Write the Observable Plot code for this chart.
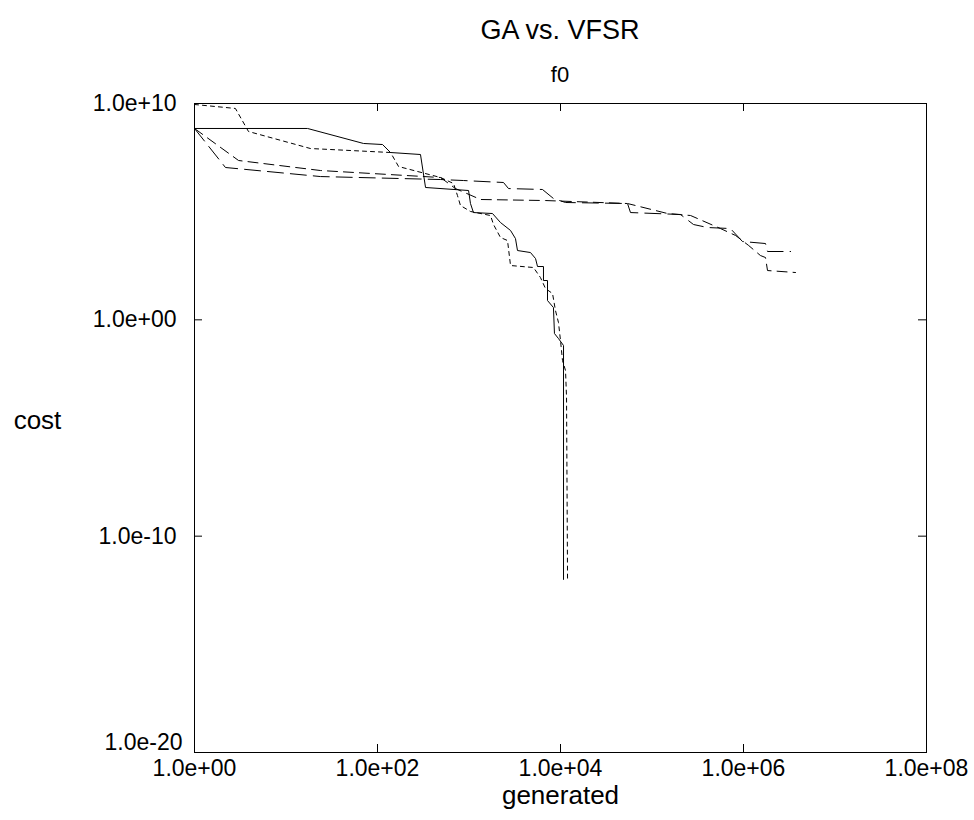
<!DOCTYPE html>
<html>
<head>
<meta charset="utf-8">
<script src="https://cdn.jsdelivr.net/npm/d3@7"></script>
<script src="https://cdn.jsdelivr.net/npm/@observablehq/plot@0.6"></script>
<style>
  body { margin: 0; background: #fff; font-family: "Liberation Sans", Arial, Helvetica, sans-serif; color: #000; }
  #title { height: 60px; line-height: 60px; font-size: 27px; text-align: center; padding-left: 194px; width: 732px; }
  #subtitle { height: 28px; line-height: 30px; font-size: 22px; text-align: center; padding-left: 194px; width: 732px; }
  #chart svg { display: block; }
</style>
</head>
<body>
<div id="title">GA vs. VFSR</div>
<div id="subtitle">f0</div>
<div id="chart"></div>
<script>
// Tick values and labels
const xTicks = [1, 1e2, 1e4, 1e6, 1e8];
const xTickLabels = ["1.0e+00", "1.0e+02", "1.0e+04", "1.0e+06", "1.0e+08"];
const yTicks = [1e10, 1e0, 1e-10, 1e-20];
const yTickLabels = ["1.0e+10", "1.0e+00", "1.0e-10", "1.0e-20"];

// Series: [generated, cost]
const gaRun1 = [
  [1, 7.0e8], [17.2, 7.0e8], [70.3, 1.42e8], [113.5, 1.27e8], [138.7, 5.43e7],
  [295, 4.39e7], [335, 1.31e6], [989, 9.5e5], [1038, 2.38e5], [1119, 9.1e4],
  [1807, 8.2e4], [2208, 3.15e4], [2844, 1.35e4], [3221, 5.7e3], [3388, 1.6e3],
  [4699, 1.29e3], [5333, 682], [5610, 291], [6516, 291], [6516, 65.6],
  [7211, 65.6], [7211, 7.8], [8375, 3.7], [8590, 0.233], [9506, 0.136],
  [10790, 0.065], [10790, 1e-12]
];
const gaRun2 = [
  [1, 9.0e9], [2.8, 5.9e9], [3.89, 5.08e8], [18.5, 8.3e7], [138.7, 5.43e7],
  [170, 1.22e7], [489, 3.79e6], [678, 2.0e6], [748, 5.58e5], [807, 1.92e5],
  [1038, 1.02e5], [1718, 6.64e4], [1853, 2.55e4], [2208, 6.38e3], [2636, 4.64e3],
  [2844, 324], [5070, 262], [6039, 90], [6855, 28], [8185, 16.4],
  [8810, 2.7], [9506, 0.75], [10000, 0.11], [10520, 0.0131], [11350, 0.00453],
  [11640, 2.56e-4], [11940, 1e-12]
];
const vfsrRun1 = [
  [1, 7.0e8], [3.03, 2.32e7], [23.8, 7.98e6], [489, 3.79e6], [711, 1.17e6],
  [1337, 3.65e5], [6855, 3.27e5], [5.4e4, 2.38e5], [1.48e5, 8.2e4], [2.64e5, 6.64e4],
  [5.6e5, 1.66e4], [8.2e5, 7.9e3], [1.14e6, 2.72e3], [1.53e6, 940], [1.74e6, 759],
  [1.83e6, 190], [3.7e6, 154]
];
const vfsrRun2 = [
  [1, 7.0e8], [2.18, 1.1e7], [23.8, 4.2e6], [489, 3.06e6], [871, 2.75e6],
  [2382, 2.23e6], [2704, 1.17e6], [6353, 1.06e6], [8375, 4.06e5], [11350, 2.65e5],
  [5.4e4, 2.38e5], [5.82e4, 9.1e4], [2.05e5, 7.4e4], [2.84e5, 2.55e4], [4.05e5, 1.85e4],
  [7.2e5, 1.66e4], [9.75e5, 4.17e3], [1.74e6, 3.37e3], [1.83e6, 1.44e3], [3.27e6, 1.44e3]
];

const xFmt = new Map(xTicks.map((t, i) => [t, xTickLabels[i]]));
const yFmt = new Map(yTicks.map((t, i) => [t, yTickLabels[i]]));

const W = 974, H = 732, mL = 194, mR = 48, mT = 15, mB = 68;
const fw = W - mL - mR, fh = H - mT - mB, tk = 8;

const lineOpts = {x: d => d[0], y: d => d[1], stroke: "black", strokeWidth: 1};
const yMain = yTicks.slice(0, 3), yLast = yTicks.slice(3);

const chart = Plot.plot({
  width: W, height: H,
  marginLeft: mL, marginRight: mR, marginTop: mT, marginBottom: mB,
  style: {fontFamily: '"Liberation Sans", Arial, Helvetica, sans-serif', fontSize: "23px", background: "white", color: "black", overflow: "visible"},
  x: {type: "log", domain: [1, 1e8], axis: null},
  y: {type: "log", domain: [1e-20, 1e10], axis: null},
  marks: [
    Plot.frame({stroke: "black", strokeWidth: 1}),
    Plot.tickX(xTicks, {x: d => d, insetTop: fh - tk, stroke: "black"}),
    Plot.tickX(xTicks, {x: d => d, insetBottom: fh - tk, stroke: "black"}),
    Plot.tickY(yTicks, {y: d => d, insetRight: fw - tk, stroke: "black"}),
    Plot.tickY(yTicks, {y: d => d, insetLeft: fw - tk, stroke: "black"}),
    Plot.axisX(xTicks, {anchor: "bottom", tickSize: 0, tickPadding: 7, tickFormat: d => xFmt.get(d), label: null, fontSize: 23}),
    Plot.axisY(yMain, {anchor: "left", tickSize: 0, tickPadding: 18, tickFormat: d => yFmt.get(d), label: null, fontSize: 23}),
    Plot.axisY(yLast, {anchor: "left", tickSize: 0, tickPadding: 12, dy: -10, tickFormat: d => yFmt.get(d), label: null, fontSize: 23}),
    Plot.line(gaRun1, {...lineOpts}),
    Plot.line(gaRun2, {...lineOpts, strokeDasharray: "4,4"}),
    Plot.line(vfsrRun1, {...lineOpts, strokeDasharray: "10,6"}),
    Plot.line(vfsrRun2, {...lineOpts, strokeDasharray: "16,7"}),
    Plot.text(["cost"], {frameAnchor: "left", dx: -157, dy: -7, text: d => d, textAnchor: "middle", fontSize: 26}),
    Plot.text(["generated"], {frameAnchor: "bottom", dy: 51, text: d => d, textAnchor: "middle", fontSize: 26})
  ]
});
document.getElementById("chart").appendChild(chart);
</script>
</body>
</html>
